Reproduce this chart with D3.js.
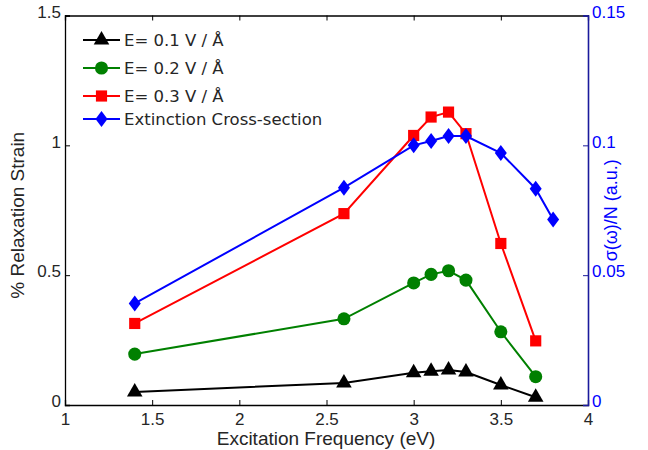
<!DOCTYPE html>
<html><head><meta charset="utf-8">
<script src="https://cdn.jsdelivr.net/npm/d3@7"></script>
<style>body{margin:0;background:#fff}svg{display:block}text{font-family:"Liberation Sans",Arial,sans-serif}</style>
</head><body>
<svg id="c" width="648" height="450"></svg>
<script>
const freq = [1.4, 2.6, 3.0, 3.1, 3.2, 3.3, 3.5, 3.7];
const freqExt = [1.4, 2.6, 3.0, 3.1, 3.2, 3.3, 3.5, 3.7, 3.8];
const strain01 = [0.05, 0.085, 0.124, 0.13, 0.135, 0.127, 0.077, 0.03];
const strain02 = [0.196, 0.332, 0.47, 0.503, 0.517, 0.481, 0.282, 0.109];
const strain03 = [0.314, 0.737, 1.038, 1.109, 1.128, 1.045, 0.622, 0.247];
const extinction = [0.0391, 0.0837, 0.1, 0.1017, 0.1036, 0.1036, 0.097, 0.0833, 0.0714];
const xTicks = [1, 1.5, 2, 2.5, 3, 3.5, 4];
const yLeftTicks = [0, 0.5, 1, 1.5];
const yRightTicks = [0, 0.05, 0.1, 0.15];
const legendLabels = ["E= 0.1 V / Å", "E= 0.2 V / Å", "E= 0.3 V / Å", "Extinction Cross-section"];

const svg = d3.select("#c");
const L = 65, R = 588, T = 15.5, B = 405;
const x = d3.scaleLinear().domain([1, 4]).range([L, R]);
const yL = d3.scaleLinear().domain([0, 1.5]).range([B, T]);
const yR = d3.scaleLinear().domain([0, 0.15]).range([B, T]);
const txt = "#262626", blueAx = "#1a1a9c";

// axes
const gx = svg.append("g").attr("transform", `translate(0,${B})`)
  .call(d3.axisBottom(x).tickValues(xTicks).tickSize(-5).tickPadding(8).tickFormat(d3.format("")));
const gxt = svg.append("g").attr("transform", `translate(0,${T})`)
  .call(d3.axisTop(x).tickValues(xTicks).tickSize(-5).tickFormat(""));
const gy = svg.append("g").attr("transform", `translate(${L},0)`)
  .call(d3.axisLeft(yL).tickValues(yLeftTicks).tickSize(-5).tickPadding(4).tickFormat(d3.format("")));
const gyr = svg.append("g").attr("transform", `translate(${R},0)`)
  .call(d3.axisRight(yR).tickValues(yRightTicks).tickSize(-5).tickPadding(4).tickFormat(d3.format("")));
[gx, gxt, gy].forEach(g => {
  g.select(".domain").attr("stroke", "#000").attr("stroke-width", 1.3);
  g.selectAll(".tick line").attr("stroke", "#000");
  g.selectAll("text").attr("fill", txt).style("font-size", "17px");
});
gyr.select(".domain").attr("stroke", blueAx).attr("stroke-width", 1.6);
gyr.selectAll(".tick line").attr("stroke", blueAx);
gyr.selectAll("text").attr("fill", "#0000ff").style("font-size", "17px");
gy.selectAll(".tick text").attr("dy", "0.1em");
gyr.selectAll(".tick text").attr("dy", "0.1em");

// labels
svg.append("text").attr("x", 326).attr("y", 445).attr("text-anchor", "middle")
  .attr("fill", txt).style("font-size", "19px").text("Excitation Frequency (eV)");
svg.append("text").attr("transform", `translate(24,${(T + B) / 2 + 5}) rotate(-90)`).attr("text-anchor", "middle")
  .attr("fill", txt).style("font-size", "19px").text("% Relaxation Strain");
svg.append("text").attr("transform", `translate(617,${(T + B) / 2}) rotate(-90)`).attr("text-anchor", "middle")
  .attr("fill", "#0000ff").style("font-size", "18px").text("σ(ω)/N (a.u.)");

const series = [
  {xs: freq, ys: strain01, sc: yL, color: "#000000", sym: d3.symbolTriangle, size: 105},
  {xs: freq, ys: strain02, sc: yL, color: "#008000", sym: d3.symbolCircle, size: 135},
  {xs: freq, ys: strain03, sc: yL, color: "#ff0000", sym: d3.symbolSquare, size: 125},
  {xs: freqExt, ys: extinction, sc: yR, color: "#0000ff", sym: "diamond", size: 0}
];
const diamond = "M0,-8L6,0L0,8L-6,0Z";
function marker(g, s, px, py) {
  const p = s.sym === "diamond" ? diamond : d3.symbol().type(s.sym).size(s.size)();
  g.append("path").attr("d", p).attr("transform", `translate(${px},${py})`).attr("fill", s.color);
}
series.forEach(s => {
  const pts = s.xs.map((v, i) => [x(v), s.sc(s.ys[i])]);
  svg.append("path").attr("d", d3.line()(pts)).attr("fill", "none")
    .attr("stroke", s.color).attr("stroke-width", 2);
  const g = svg.append("g");
  pts.forEach(p => marker(g, s, p[0], p[1]));
});

// legend
const legY = [40, 68, 96, 119];
series.forEach((s, i) => {
  const y = legY[i];
  svg.append("line").attr("x1", 83).attr("x2", 120).attr("y1", y).attr("y2", y)
    .attr("stroke", s.color).attr("stroke-width", 2);
  marker(svg, s, 101.5, y);
  svg.append("text").attr("x", 124).attr("y", y).attr("dy", "0.36em").attr("fill", txt)
    .style("font-family", "'DejaVu Sans', sans-serif").style("font-size", "16.5px").text(legendLabels[i]);
});
</script>
</body></html>
